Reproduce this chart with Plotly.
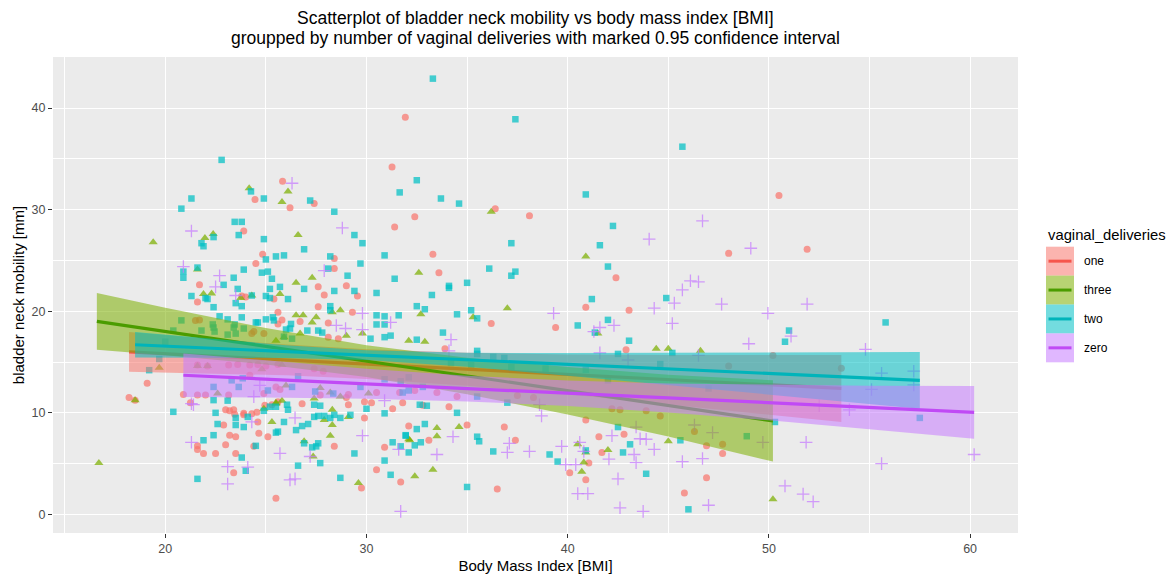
import plotly.graph_objects as go

# ---------------- data ----------------
groups = ["one", "three", "two", "zero"]

one_bmi = [31.93, 31.27, 31.4, 25.83, 24.46, 26.2, 27.4, 23.9, 24.84, 24.5, 28.4, 28.4, 21.7, 27.6, 29.0, 27.9, 29.55, 23.8, 24.0, 25.4,
           21.6, 21.5, 21.7, 25.6, 25.6, 25.8, 26.7, 27.6, 28.1, 29.3, 24.4, 24.9, 24.3, 28.1, 28.6, 19.1, 18.2, 18.5, 21.25, 21.6,
           21.6, 21.9, 22.5, 23.0, 22.9, 23.2, 23.5, 23.0, 23.4, 22.0, 21.6, 23.4, 23.5, 24.4, 23.9, 24.3, 24.6, 25.1, 24.65, 25.3,
           25.6, 25.7, 26.8, 25.5, 28.4, 29.75, 29.9, 29.9, 30.5, 30.9, 31.7, 32.1, 31.3,
           36.4, 32.4, 38.1, 48.0, 33.3, 33.6, 42.4,
           36.2, 39.4, 40.9, 43.05, 33.9, 42.9, 48.0, 37.5, 38.3, 34.5, 34.1, 33.5, 40.9, 42.2, 42.6, 43.9, 44.6, 46.3, 46.9, 47.7,
           47.7, 35.0, 36.85, 37.4, 33.1, 36.5, 41.05, 40.1, 40.9, 41.7, 41.55, 42.8, 46.9, 45.8,
           50.5, 51.9, 50.2, 53.6,
           21.6, 22.1, 23.15, 23.6, 24.2, 24.6, 25.0, 25.6, 24.2, 20.9, 23.15, 24.9, 25.5, 23.2, 23.45, 23.9, 24.55, 24.95,
           27.4, 27.85, 27.7, 29.1, 29.0, 30.5, 31.65, 32.4, 29.1, 30.25, 31.8, 32.8]
one_mm = [39.1, 34.2, 28.3, 32.8, 31.0, 30.2, 30.6, 27.9, 25.6, 24.7, 25.2, 24.2, 22.6, 22.4, 22.5, 21.6, 21.5, 21.5, 21.4, 21.2,
          20.9, 19.1, 19.15, 18.75, 19.9, 19.15, 19.0, 20.45, 18.85, 19.9, 18.0, 17.8, 17.8, 17.45, 17.3, 12.9, 11.5, 11.25, 11.0, 6.75,
          6.4, 6.0, 6.0, 6.85, 8.8, 7.8, 7.65, 10.3, 10.3, 11.75, 11.75, 4.1, 6.0, 6.7, 9.8, 9.9, 9.1, 7.65, 8.0, 10.8,
          11.1, 12.3, 10.9, 1.6, 6.7, 2.6, 9.5, 11.1, 4.4, 6.6, 3.2, 8.7, 10.4,
          30.1, 29.3, 29.4, 25.7, 25.6, 23.8, 23.3,
          18.8, 18.4, 20.4, 20.1, 16.3, 16.2, 14.6, 11.7, 11.5, 11.6, 10.6, 12.0, 9.3, 10.4, 10.3, 10.2, 9.7, 8.15, 6.75, 6.9,
          6.0, 8.8, 8.6, 7.3, 7.3, 2.5, 5.05, 4.1, 3.4, 6.1, 7.65, 7.9, 3.6, 2.1,
          31.4, 26.1, 15.65, 14.4,
          14.7, 14.6, 14.7, 14.75, 14.7, 14.75, 14.6, 14.75, 13.7, 11.8, 11.75, 11.9, 12.55, 10.2, 9.85, 9.95, 10.05, 10.75,
          14.35, 14.1, 11.75, 11.8, 11.5, 12.0, 12.0, 12.2, 10.8, 11.0, 11.0, 10.75]

three_bmi = [24.17, 26.1, 25.8, 26.6, 19.4, 21.97, 22.38, 21.6, 26.5, 27.3, 21.9, 22.3, 23.75, 24.3, 25.7,
             26.5, 26.85, 27.5, 27.3, 28.3, 28.7, 29.0, 29.8, 32.1, 25.5, 25.9, 26.7, 19.7, 18.5, 16.7, 25.3, 24.9, 25.5, 25.8,
             26.9, 27.35, 27.9, 28.3, 28.2, 28.3, 29.1, 29.6, 32.1,
             36.2, 40.9, 32.6,
             32.7, 37.0, 35.3, 41.5, 32.9, 44.4, 45.0, 46.6, 45.0, 33.5, 33.5, 34.6, 32.15, 33.3, 32.4, 40.5, 40.9, 40.8, 40.7, 42.0,
             50.2,
             21.6, 22.1, 24.8, 25.8, 22.6, 25.5, 26.0, 27.7, 28.2, 28.7, 30.1, 27.4]
three_mm = [32.1, 31.8, 30.75, 27.5, 26.8, 27.2, 27.6, 24.1, 22.8, 23.3, 21.7, 21.75, 21.3, 21.55, 21.7,
            19.6, 19.6, 19.4, 18.9, 19.9, 20.1, 17.6, 17.8, 17.1, 17.1, 17.45, 17.8, 14.45, 11.25, 5.05, 9.1, 10.4, 10.9, 11.2,
            7.2, 5.7, 9.3, 8.8, 7.75, 10.3, 9.6, 3.1, 7.4,
            29.8, 25.4, 23.8,
            19.7, 20.3, 19.4, 17.8, 17.0, 16.3, 16.3, 16.1, 7.2, 8.5, 7.7, 8.6, 7.3, 4.4, 3.75, 6.9, 6.1, 5.1, 4.2, 6.35,
            1.5,
            14.6, 14.6, 14.3, 14.7, 11.9, 11.0, 12.7, 12.45, 12.0, 11.6, 11.9, 11.4]

two_bmi = [22.8, 24.26, 21.3, 24.9, 27.2, 20.8, 28.4, 23.45, 23.8, 23.65, 29.4, 29.8, 22.4, 21.8, 21.9, 24.9, 30.9, 25.0, 25.5, 25.9,
           26.9, 28.2, 29.7, 28.1, 29.06, 31.4, 20.9, 20.9, 21.6, 23.4, 23.9, 24.8, 25.1, 25.3, 22.9, 23.6, 25.2, 25.7, 26.9, 28.4,
           29.4, 30.5, 21.3, 22.0, 22.1, 24.3, 25.0, 25.2, 26.1, 31.65,
           22.4, 23.5, 23.8, 22.7, 20.8, 22.36, 22.4, 23.1, 23.45, 23.8, 23.5, 23.1, 24.5, 25.0, 25.35, 25.4, 26.25, 26.2, 27.06, 27.6,
           27.8, 28.2, 28.2, 30.5, 30.9, 31.6, 30.5, 30.9, 30.2, 30.9, 31.2, 25.9, 26.3, 26.0, 19.7, 19.2, 20.4, 21.9, 21.6, 22.4,
           22.6, 22.5, 22.4, 23.1, 24.0, 23.8, 23.5, 23.9, 24.1, 23.5, 24.5, 24.9, 25.2, 25.5, 26.05, 26.1, 25.9, 25.6, 25.5, 26.6,
           26.9, 27.3, 27.6, 27.7, 27.5, 26.5, 26.8, 27.1, 27.4, 27.6, 27.9, 28.2, 27.4, 27.7, 28.4, 28.7, 29.2, 29.4, 28.7, 30.9,
           31.2, 31.3, 31.7, 31.95, 30.0, 30.9,
           33.3, 37.4, 45.7, 32.5, 33.7, 34.6, 40.9, 42.25, 37.2, 41.6, 36.1, 37.2, 37.4, 35.0, 34.1, 34.1, 33.25, 42.0, 41.2, 44.9,
           32.5, 32.9, 34.5, 35.2, 35.5, 40.5, 41.35, 33.8, 32.5, 42.0, 43.05, 42.5, 45.2, 35.5, 35.5, 36.3, 36.85, 37.2, 38.9, 40.9,
           35.2, 34.2, 37.0, 35.5, 34.5, 32.65, 33.0, 32.1, 42.5, 45.6, 48.9, 32.9, 32.5, 31.95, 32.7, 32.4, 32.1, 36.3, 35.6, 35.5,
           35.0, 39.1, 39.5, 40.9, 43.1, 42.75, 43.9, 46.0, 42.0, 44.6, 47.0,
           51.0, 50.8, 55.8, 57.5, 50.3,
           21.8, 22.45, 23.4, 23.9, 24.6, 20.4, 20.0, 22.4, 23.3, 23.65, 25.1, 23.85, 26.6, 26.3, 27.45, 28.35, 29.7, 30.9, 31.7, 32.1,
           31.8, 32.8]
two_mm = [34.9, 31.8, 31.1, 31.1, 30.9, 30.1, 29.8, 28.8, 28.8, 27.5, 27.5, 26.7, 27.3, 26.7, 26.4, 27.1, 25.5, 25.1, 25.4, 25.5,
          26.1, 25.4, 24.7, 24.2, 23.5, 23.2, 23.9, 23.3, 24.3, 23.3, 24.1, 23.8, 23.9, 23.2, 22.6, 22.2, 22.2, 22.4, 22.2, 22.0,
          22.0, 21.8, 21.5, 21.3, 21.2, 21.55, 21.5, 21.3, 21.2, 31.7,
          20.4, 20.8, 20.5, 19.5, 19.1, 18.7, 18.4, 19.2, 18.7, 19.4, 17.8, 17.7, 18.9, 19.2, 19.4, 19.1, 18.75, 18.3, 18.1, 18.1,
          17.9, 20.5, 20.1, 19.6, 19.5, 19.6, 18.7, 18.7, 17.3, 17.45, 17.6, 17.5, 17.3, 18.2, 15.3, 14.2, 10.1, 7.3, 3.5, 7.8,
          8.9, 10.0, 11.25, 11.2, 4.3, 5.6, 9.5, 8.6, 9.6, 8.8, 6.75, 10.2, 10.6, 10.6, 10.8, 10.3, 9.1, 8.15, 8.05, 4.8,
          7.0, 6.6, 7.0, 5.05, 6.7, 8.3, 8.7, 8.9, 9.6, 9.7, 9.7, 9.5, 10.8, 10.7, 9.8, 9.5, 9.8, 6.0, 3.6, 5.3,
          3.9, 7.1, 6.7, 7.75, 10.4, 9.95,
          42.9, 38.9, 36.2, 32.9, 31.1, 30.6, 31.5, 28.4, 26.7, 26.5, 24.2, 23.5, 23.9, 22.8, 22.5, 22.3, 21.6, 24.4, 21.2, 21.3,
          20.5, 20.2, 19.7, 20.1, 19.3, 18.6, 17.9, 17.9, 17.2, 19.15, 17.1, 15.8, 15.9, 16.1, 15.8, 15.5, 15.4, 14.5, 14.35, 14.25,
          14.7, 14.9, 11.0, 11.6, 10.0, 10.8, 10.7, 12.2, 8.6, 7.3, 7.7, 8.9, 8.4, 7.8, 7.1, 6.8, 6.1, 6.2, 7.2, 7.65,
          2.7, 5.9, 5.2, 6.3, 6.9, 6.1, 4.0, 0.5, 13.2, 14.8, 12.4,
          18.1, 17.0, 18.9, 9.5, 9.1,
          18.1, 18.0, 18.4, 18.3, 18.9, 18.1, 17.0, 12.55, 13.2, 12.55, 12.2, 13.4, 13.6, 12.55, 12.1, 11.9, 12.55, 13.3, 13.1, 13.5,
          12.0, 12.55]

zero_bmi = [26.3, 28.8, 21.3, 27.9, 20.9, 22.7, 22.5, 23.5,
            29.8, 31.2, 28.5, 28.96, 29.8, 21.4, 21.3, 23.1, 24.1, 23.1, 24.3, 25.7, 26.2, 26.45, 27.2, 26.45, 29.8, 31.7, 30.9, 31.6,
            44.05, 46.7, 46.1, 46.5, 45.7, 49.1,
            39.3, 44.3, 45.3, 47.65, 45.2, 42.3, 41.6, 41.3, 34.2, 34.1, 43.0, 41.6, 46.5, 49.0, 38.7, 38.6, 43.4, 46.3, 47.2, 34.3,
            33.5, 37.1, 37.0, 38.1, 39.7, 39.9, 40.4, 40.6, 40.8, 40.5, 41.0, 42.05, 42.5, 42.6, 43.75, 43.3, 43.4, 43.9, 44.3, 43.6,
            42.2, 45.7, 46.7, 47.0,
            49.95, 51.9, 51.1, 54.8, 55.6, 57.2, 55.1, 51.85, 49.7, 55.6, 60.2, 50.8, 51.7, 52.2, 52.5, 54.0, 57.2,
            21.3, 24.4, 24.7]
zero_mm = [32.6, 28.2, 27.9, 24.0, 24.4, 23.5, 22.4, 21.55,
           19.8, 18.9, 18.6, 18.3, 18.2, 10.8, 7.1, 4.7, 4.65, 3.0, 9.1, 6.0, 3.4, 3.5, 5.7, 9.5, 7.75, 0.3, 11.2, 6.4,
           27.1, 28.9, 23.0, 22.9, 22.1, 26.2,
           19.8, 20.3, 20.8, 20.7, 18.8, 18.6, 18.4, 18.0, 17.2, 16.1, 15.2, 15.9, 15.65, 16.8, 9.7, 10.8, 8.6, 8.8, 8.05, 7.65,
           5.9, 7.0, 6.1, 6.2, 6.7, 4.9, 4.9, 7.1, 6.2, 2.05, 2.05, 5.45, 3.5, 0.65, 0.3, 5.9, 5.1, 7.4, 6.4, 7.45,
           7.75, 5.2, 5.5, 0.9,
           19.8, 20.7, 17.55, 16.25, 13.9, 14.1, 12.3, 7.1, 7.1, 5.0, 5.9, 2.8, 2.0, 1.25, 10.7, 10.3, 12.75,
           10.9, 11.6, 12.7]

# fitted lines and 0.95 confidence bands
one_x = [18.2, 22, 26, 30, 35, 40, 45, 50, 53.6]
one_fit = [16.0, 15.61, 15.21, 14.80, 14.29, 13.78, 13.27, 12.77, 12.40]
one_lo = [14.05, 13.91, 13.69, 13.34, 12.67, 11.82, 10.85, 9.84, 9.10]
one_hi = [17.95, 17.31, 16.73, 16.26, 15.91, 15.74, 15.69, 15.70, 15.70]

three_x = [16.6, 20, 25, 30, 35, 40, 45, 50.2]
three_fit = [19.0, 18.01, 16.55, 15.09, 13.63, 12.17, 10.71, 9.20]
three_lo = [16.20, 15.68, 14.76, 13.52, 11.84, 9.84, 7.68, 5.20]
three_hi = [21.80, 20.34, 18.34, 16.66, 15.42, 14.50, 13.74, 13.20]

two_x = [18.5, 22, 26, 30, 35, 40, 45, 50, 57.5]
two_fit = [16.70, 16.39, 16.03, 15.67, 15.22, 14.77, 14.33, 13.88, 13.20]
two_lo = [15.45, 15.46, 15.40, 15.19, 14.53, 13.66, 12.75, 11.82, 10.40]
two_hi = [17.95, 17.32, 16.66, 16.15, 15.91, 15.88, 15.91, 15.94, 16.00]

zero_x = [20.9, 25, 30, 35, 40, 45, 50, 55, 60.2]
zero_fit = [13.70, 13.32, 12.86, 12.39, 11.93, 11.46, 11.00, 10.53, 10.05]
zero_lo = [11.55, 11.50, 11.38, 11.12, 10.68, 10.04, 9.26, 8.39, 7.45]
zero_hi = [15.85, 15.14, 14.34, 13.66, 13.18, 12.88, 12.74, 12.67, 12.65]

x_ticks = [20, 30, 40, 50, 60]
y_ticks = [0, 10, 20, 30, 40]

title_lines = ["Scatterplot of bladder neck mobility vs body mass index [BMI]",
               "groupped by number of vaginal deliveries with marked 0.95 confidence interval"]

# ---------------- styling ----------------
pt_color = {"one": "#F8766D", "three": "#7CAE00", "two": "#00BFC4", "zero": "#C77CFF"}
line_color = {"one": "#F6564C", "three": "#4A9C00", "two": "#00B4BA", "zero": "#C04AF5"}
band_color = {"one": "rgba(248,118,109,0.55)", "three": "rgba(124,174,0,0.55)",
              "two": "rgba(0,191,196,0.55)", "zero": "rgba(199,124,255,0.55)"}
symbol = {"one": "circle", "three": "triangle-up", "two": "square", "zero": "cross-thin"}
msize = {"one": 7, "three": 8, "two": 6.5, "zero": 9}

pts = {"one": (one_bmi, one_mm), "three": (three_bmi, three_mm),
       "two": (two_bmi, two_mm), "zero": (zero_bmi, zero_mm)}
fits = {"one": (one_x, one_fit, one_lo, one_hi), "three": (three_x, three_fit, three_lo, three_hi),
        "two": (two_x, two_fit, two_lo, two_hi), "zero": (zero_x, zero_fit, zero_lo, zero_hi)}

FONT = "Liberation Sans, Arial, Helvetica, sans-serif"

fig = go.Figure()

for g in groups:
    xs, ys = pts[g]
    marker = dict(symbol=symbol[g], size=msize[g], color=pt_color[g], opacity=0.72)
    if g == "zero":
        marker["line"] = dict(color=pt_color[g], width=1.3)
    else:
        marker["line"] = dict(width=0)
    fig.add_trace(go.Scatter(x=xs, y=ys, mode="markers", marker=marker,
                             showlegend=False, hoverinfo="skip"))

for g in groups:
    bx, fit, lo, hi = fits[g]
    fig.add_trace(go.Scatter(x=bx + bx[::-1], y=hi + lo[::-1], fill="toself",
                             fillcolor=band_color[g], line=dict(width=0), mode="lines",
                             showlegend=False, hoverinfo="skip"))
    fig.add_trace(go.Scatter(x=bx, y=fit, mode="lines",
                             line=dict(color=line_color[g], width=3.2),
                             showlegend=False, hoverinfo="skip"))

# ---------------- custom legend & titles ----------------
L, R, T, B = 53, 152, 57, 41
W, H = 1170 - L - R, 574 - T - B

def px_x(p):
    return (p - L) / W

def px_y(p):
    return (574 - B - p) / H

annotations = []
for i, line in enumerate(title_lines):
    annotations.append(dict(text=line, x=0.5, y=px_y(18 + 20 * i), xref="paper", yref="paper",
                            xanchor="center", yanchor="middle", showarrow=False,
                            font=dict(size=17.5, color="#000000", family=FONT)))
annotations.append(dict(text="vaginal_deliveries", x=px_x(1046), y=px_y(235), xref="paper", yref="paper",
                        xanchor="left", yanchor="middle", showarrow=False,
                        font=dict(size=14.8, color="#000000", family=FONT)))
shapes = []
key_top = 246.7
key_h = 28.9
for i, g in enumerate(groups):
    t = key_top + i * key_h
    shapes.append(dict(type="rect", xref="paper", yref="paper",
                       x0=px_x(1046), x1=px_x(1074), y0=px_y(t + key_h), y1=px_y(t),
                       fillcolor=band_color[g], line=dict(width=0), layer="above"))
    c = t + key_h / 2
    shapes.append(dict(type="line", xref="paper", yref="paper",
                       x0=px_x(1048.5), x1=px_x(1071.5), y0=px_y(c), y1=px_y(c),
                       line=dict(color=line_color[g], width=3), layer="above"))
    annotations.append(dict(text=g, x=px_x(1082), y=px_y(c), xref="paper", yref="paper",
                            xanchor="left", yanchor="middle", showarrow=False,
                            font=dict(size=12, color="#000000", family=FONT)))

fig.update_layout(
    width=1170, height=574,
    margin=dict(l=L, r=R, t=T, b=B),
    paper_bgcolor="#FFFFFF", plot_bgcolor="#EBEBEB",
    font=dict(family=FONT, color="#000000"),
    showlegend=False,
    annotations=annotations, shapes=shapes,
    xaxis=dict(range=[14.42, 62.38], tickmode="array", tickvals=x_ticks,
               ticktext=[str(v) for v in x_ticks], automargin=False,
               showgrid=True, gridcolor="#FFFFFF", gridwidth=1.2, zeroline=False,
               minor=dict(dtick=5, tick0=0, showgrid=True, gridcolor="#FFFFFF", gridwidth=0.5, ticks=""),
               ticks="outside", ticklen=4, tickwidth=1.1, tickcolor="#333333",
               tickfont=dict(size=12.5, color="#4D4D4D", family=FONT),
               title=dict(text="Body Mass Index [BMI]", standoff=5,
                          font=dict(size=15, color="#000000", family=FONT)),
               showline=False),
    yaxis=dict(range=[-1.83, 45.03], tickmode="array", tickvals=y_ticks,
               ticktext=[str(v) for v in y_ticks], automargin=False,
               showgrid=True, gridcolor="#FFFFFF", gridwidth=1.2, zeroline=False,
               minor=dict(dtick=5, tick0=0, showgrid=True, gridcolor="#FFFFFF", gridwidth=0.5, ticks=""),
               ticks="outside", ticklen=4, tickwidth=1.1, tickcolor="#333333",
               tickfont=dict(size=12.5, color="#4D4D4D", family=FONT),
               title=dict(text="bladder neck mobility [mm]", standoff=3,
                          font=dict(size=15, color="#000000", family=FONT)),
               showline=False),
)

fig.write_html("out.html")
